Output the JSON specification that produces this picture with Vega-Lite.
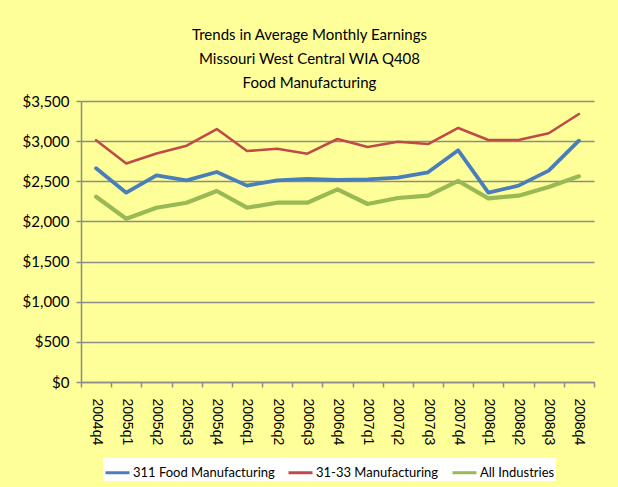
{
  "$schema": "https://vega.github.io/schema/vega-lite/v6.json",
  "width": 513,
  "height": 281,
  "autosize": {"type": "none"},
  "padding": {"left": 81, "top": 101, "right": 24, "bottom": 105},
  "background": "#FFFF99",
  "title": {
    "text": ["Trends in Average Monthly Earnings", "Missouri  West Central WIA Q408", "Food Manufacturing"],
    "font": "Lato",
    "fontSize": 15,
    "fontWeight": "normal",
    "color": "#000000",
    "lineHeight": 24,
    "anchor": "middle",
    "dx": -28,
    "offset": 3
  },
  "config": {
    "view": {"stroke": null},
    "axis": {"domainColor": "#8c8c8c", "tickColor": "#8c8c8c", "gridColor": "#8c8c8c", "domainWidth": 1.5, "tickWidth": 1.5, "gridWidth": 1.5}
  },
  "data": {
    "values": [
      {"quarter": "2004q4", "series": "311 Food Manufacturing", "earnings": 2662},
      {"quarter": "2005q1", "series": "311 Food Manufacturing", "earnings": 2358},
      {"quarter": "2005q2", "series": "311 Food Manufacturing", "earnings": 2574},
      {"quarter": "2005q3", "series": "311 Food Manufacturing", "earnings": 2512},
      {"quarter": "2005q4", "series": "311 Food Manufacturing", "earnings": 2616},
      {"quarter": "2006q1", "series": "311 Food Manufacturing", "earnings": 2446},
      {"quarter": "2006q2", "series": "311 Food Manufacturing", "earnings": 2512},
      {"quarter": "2006q3", "series": "311 Food Manufacturing", "earnings": 2529},
      {"quarter": "2006q4", "series": "311 Food Manufacturing", "earnings": 2516},
      {"quarter": "2007q1", "series": "311 Food Manufacturing", "earnings": 2525},
      {"quarter": "2007q2", "series": "311 Food Manufacturing", "earnings": 2545},
      {"quarter": "2007q3", "series": "311 Food Manufacturing", "earnings": 2612},
      {"quarter": "2007q4", "series": "311 Food Manufacturing", "earnings": 2886},
      {"quarter": "2008q1", "series": "311 Food Manufacturing", "earnings": 2358},
      {"quarter": "2008q2", "series": "311 Food Manufacturing", "earnings": 2446},
      {"quarter": "2008q3", "series": "311 Food Manufacturing", "earnings": 2633},
      {"quarter": "2008q4", "series": "311 Food Manufacturing", "earnings": 3006},
      {"quarter": "2004q4", "series": "31-33 Manufacturing", "earnings": 3012},
      {"quarter": "2005q1", "series": "31-33 Manufacturing", "earnings": 2722},
      {"quarter": "2005q2", "series": "31-33 Manufacturing", "earnings": 2846},
      {"quarter": "2005q3", "series": "31-33 Manufacturing", "earnings": 2944},
      {"quarter": "2005q4", "series": "31-33 Manufacturing", "earnings": 3151},
      {"quarter": "2006q1", "series": "31-33 Manufacturing", "earnings": 2877},
      {"quarter": "2006q2", "series": "31-33 Manufacturing", "earnings": 2906},
      {"quarter": "2006q3", "series": "31-33 Manufacturing", "earnings": 2844},
      {"quarter": "2006q4", "series": "31-33 Manufacturing", "earnings": 3027},
      {"quarter": "2007q1", "series": "31-33 Manufacturing", "earnings": 2927},
      {"quarter": "2007q2", "series": "31-33 Manufacturing", "earnings": 2993},
      {"quarter": "2007q3", "series": "31-33 Manufacturing", "earnings": 2964},
      {"quarter": "2007q4", "series": "31-33 Manufacturing", "earnings": 3164},
      {"quarter": "2008q1", "series": "31-33 Manufacturing", "earnings": 3014},
      {"quarter": "2008q2", "series": "31-33 Manufacturing", "earnings": 3014},
      {"quarter": "2008q3", "series": "31-33 Manufacturing", "earnings": 3098},
      {"quarter": "2008q4", "series": "31-33 Manufacturing", "earnings": 3338},
      {"quarter": "2004q4", "series": "All Industries", "earnings": 2308},
      {"quarter": "2005q1", "series": "All Industries", "earnings": 2034},
      {"quarter": "2005q2", "series": "All Industries", "earnings": 2171},
      {"quarter": "2005q3", "series": "All Industries", "earnings": 2233},
      {"quarter": "2005q4", "series": "All Industries", "earnings": 2379},
      {"quarter": "2006q1", "series": "All Industries", "earnings": 2171},
      {"quarter": "2006q2", "series": "All Industries", "earnings": 2233},
      {"quarter": "2006q3", "series": "All Industries", "earnings": 2233},
      {"quarter": "2006q4", "series": "All Industries", "earnings": 2400},
      {"quarter": "2007q1", "series": "All Industries", "earnings": 2217},
      {"quarter": "2007q2", "series": "All Industries", "earnings": 2292},
      {"quarter": "2007q3", "series": "All Industries", "earnings": 2321},
      {"quarter": "2007q4", "series": "All Industries", "earnings": 2504},
      {"quarter": "2008q1", "series": "All Industries", "earnings": 2288},
      {"quarter": "2008q2", "series": "All Industries", "earnings": 2321},
      {"quarter": "2008q3", "series": "All Industries", "earnings": 2429},
      {"quarter": "2008q4", "series": "All Industries", "earnings": 2562}
    ]
  },
  "encoding": {
    "x": {
      "field": "quarter",
      "type": "ordinal",
      "scale": {"type": "band", "paddingInner": 0, "paddingOuter": 0},
      "axis": {
        "title": null,
        "tickBand": "extent",
        "tickSize": 5,
        "labelAngle": 90,
        "labelAlign": "left",
        "labelBaseline": "middle",
        "labelPadding": 11,
        "labelFont": "Liberation Sans",
        "labelFontSize": 14,
        "labelColor": "#000000",
        "grid": false
      }
    },
    "y": {
      "field": "earnings",
      "type": "quantitative",
      "scale": {"domain": [0, 3500], "nice": false},
      "axis": {
        "title": null,
        "values": [0, 500, 1000, 1500, 2000, 2500, 3000, 3500],
        "format": "$,.0f",
        "tickSize": 5,
        "labelPadding": 7,
        "labelFont": "Lato",
        "labelFontSize": 15,
        "labelColor": "#000000",
        "grid": true
      }
    },
    "color": {
      "field": "series",
      "type": "nominal",
      "scale": {
        "domain": ["311 Food Manufacturing", "31-33 Manufacturing", "All Industries"],
        "range": ["#4a7ebb", "#be4b48", "#98b954"]
      },
      "legend": {
        "title": null,
        "orient": "none",
        "direction": "horizontal",
        "legendX": 22,
        "legendY": 357,
        "fillColor": "#ffffff",
        "padding": 1,
        "symbolType": "stroke",
        "symbolSize": 576,
        "symbolStrokeWidth": 3,
        "labelFont": "Lato",
        "labelFontSize": 13,
        "labelColor": "#000000",
        "labelOffset": 2,
        "columnPadding": 7
      }
    }
  },
  "layer": [
    {
      "transform": [{"filter": "datum.series === '311 Food Manufacturing'"}],
      "mark": {"type": "line", "strokeWidth": 3.8, "strokeCap": "round", "strokeJoin": "round"}
    },
    {
      "transform": [{"filter": "datum.series === '31-33 Manufacturing'"}],
      "mark": {"type": "line", "strokeWidth": 2.6, "strokeCap": "round", "strokeJoin": "round"}
    },
    {
      "transform": [{"filter": "datum.series === 'All Industries'"}],
      "mark": {"type": "line", "strokeWidth": 4.2, "strokeCap": "round", "strokeJoin": "round"}
    }
  ]
}
